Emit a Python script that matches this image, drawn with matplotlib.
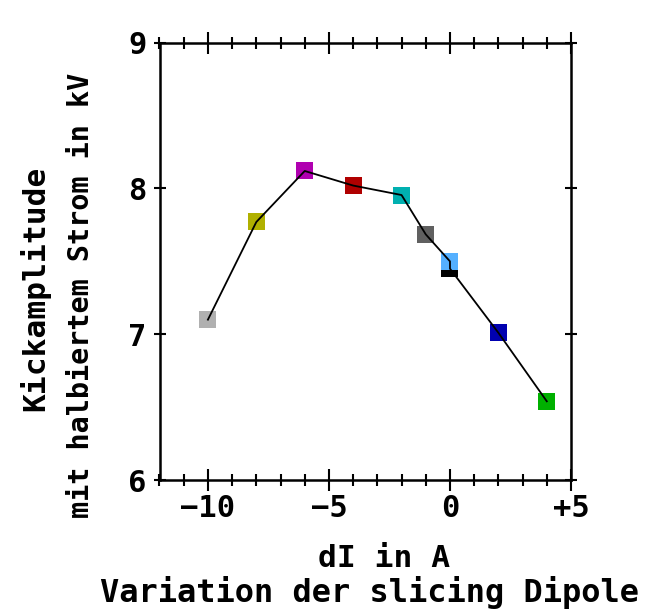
import matplotlib
matplotlib.use("Agg")
import matplotlib.pyplot as plt
from matplotlib.ticker import FixedLocator, FixedFormatter, MultipleLocator

# Data
dI = [-10, -8, -6, -4, -2, -1, 0, 0, 2, 4]
kick = [7.10, 7.77, 8.12, 8.02, 7.955, 7.685, 7.50, 7.45, 7.01, 6.54]
colors = ["#b0b0b0", "#b0b000", "#b000b0", "#b00000", "#00b0b0",
          "#606060", "#55b0ff", "#000000", "#0000b0", "#00b000"]
xticks = [-10, -5, 0, 5]
xticklabels = ["\u221210", "\u22125", "0", "+5"]
yticks = [6, 7, 8, 9]
yticklabels = ["6", "7", "8", "9"]

W, H = 648, 611
fig = plt.figure(figsize=(W / 100, H / 100), dpi=100)
ax = fig.add_axes([159.5 / W, 1 - 480 / H, (571 - 159.5) / W, (480 - 42.7) / H])

FONT = "DejaVu Sans Mono"

# markers (reverse order so the light-blue square sits over the black one)
ax.scatter(dI[::-1], kick[::-1], c=colors[::-1], marker="s", s=150,
           linewidths=0, zorder=2)
ax.plot(dI, kick, color="black", lw=1.3, zorder=3)

ax.set_xlim(-12, 5)
ax.set_ylim(6, 9)

ax.xaxis.set_major_locator(FixedLocator(xticks))
ax.xaxis.set_major_formatter(FixedFormatter(xticklabels))
ax.xaxis.set_minor_locator(MultipleLocator(1))
ax.yaxis.set_major_locator(FixedLocator(yticks))
ax.yaxis.set_major_formatter(FixedFormatter(yticklabels))

for s in ax.spines.values():
    s.set_linewidth(1.8)
    s.set_color("black")

ax.tick_params(axis="x", which="major", direction="inout", length=15.5,
               width=1.5, top=True, bottom=True, labelsize=22, pad=2)
ax.tick_params(axis="x", which="minor", direction="inout", length=8.4,
               width=1.5, top=True, bottom=True)
ax.tick_params(axis="y", which="major", direction="inout", length=8.4,
               width=1.5, left=True, right=True, labelsize=22, pad=5)
for lab in ax.get_xticklabels() + ax.get_yticklabels():
    lab.set_fontfamily(FONT)
    lab.set_fontweight("bold")

# axis labels
def fx(x):
    return x / W

def fy(y):
    return 1 - y / H

fig.text(fx(384), fy(567), "dI in A", ha="center", va="baseline",
         family=FONT, weight="bold", fontsize=22.5)
fig.text(fx(370), fy(602), "Variation der slicing Dipole", ha="center",
         va="baseline", family=FONT, weight="bold", fontsize=23)
fig.text(fx(35), fy(288), "Kickamplitude", ha="center", va="center",
         rotation=90, family=FONT, weight="bold", fontsize=22.5)
fig.text(fx(81), fy(295), "mit halbiertem Strom in kV", ha="center",
         va="center", rotation=90, family=FONT, weight="bold", fontsize=20.5)

fig.savefig("out.png", dpi=100)
